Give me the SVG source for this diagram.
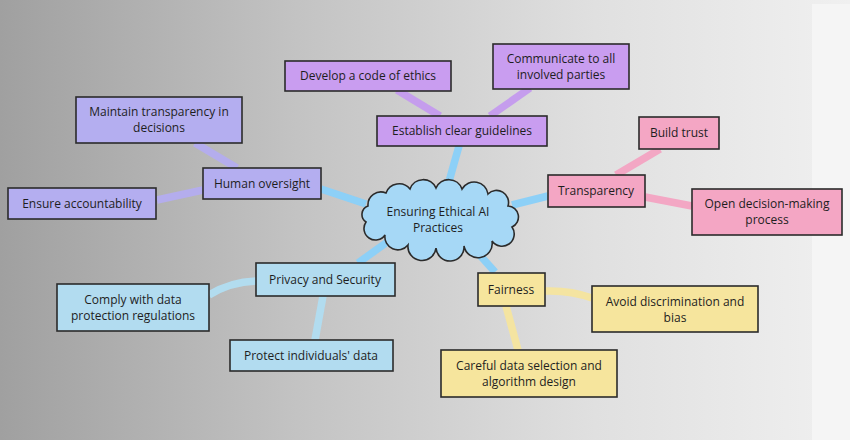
<svg xmlns="http://www.w3.org/2000/svg" width="850" height="440" viewBox="0 0 850 440">
<defs>
<linearGradient id="bg" x1="0" y1="0" x2="1" y2="0">
<stop offset="0" stop-color="#a0a0a0"/>
<stop offset="0.35" stop-color="#c3c3c3"/>
<stop offset="0.7" stop-color="#e0e0e0"/>
<stop offset="1" stop-color="#f0f0f0"/>
</linearGradient>
</defs>
<style>
.box{stroke:#2b2b2b;stroke-width:1.6}
.t{font-family:"Comic Sans MS","Open Sans","Liberation Sans",sans-serif;font-size:12px;fill:#1e1e1e;text-anchor:middle}
.c{fill:none;stroke-width:7.5;stroke-linecap:butt}
.sky{stroke:#8dd0f7}
.vio{stroke:#c59ded}
.per{stroke:#b4aded}
.pink{stroke:#f3a7c4}
.lb{stroke:#b2dcef}
.yel{stroke:#f4e4a1}
.fvio{fill:#c99df0}
.fper{fill:#b4aef0}
.fpink{fill:#f4a6c4}
.flb{fill:#b2dcf0}
.fyel{fill:#f6e59d}
</style>
<rect width="850" height="440" fill="url(#bg)"/>
<rect x="812" y="4" width="38" height="436" fill="#f5f5f5"/>

<g id="connectors">
<line class="c sky" x1="446" y1="192" x2="459" y2="146"/>
<line class="c sky" x1="366" y1="204" x2="321" y2="189"/>
<line class="c sky" x1="512" y1="205" x2="548" y2="196"/>
<line class="c sky" x1="390" y1="240" x2="358" y2="263"/>
<line class="c sky" x1="468" y1="242" x2="495" y2="272"/>
<line class="c vio" x1="397" y1="90" x2="440" y2="116"/>
<line class="c vio" x1="530" y1="88" x2="490" y2="116"/>
<line class="c per" x1="195" y1="143" x2="237" y2="168"/>
<line class="c per" x1="157" y1="200" x2="203" y2="190"/>
<line class="c pink" x1="660" y1="149" x2="616" y2="175"/>
<line class="c pink" x1="645" y1="197" x2="692" y2="206"/>
<path class="c lb" d="M209 295 Q230 282 256 281"/>
<line class="c lb" x1="323" y1="296" x2="315" y2="340"/>
<path class="c yel" d="M545 291 Q570 290 592 298"/>
<line class="c yel" x1="506" y1="306" x2="518" y2="350"/>
</g>

<g id="center">
<path d="M368 206 A13 13 0 0 1 386 193 A14 14 0 0 1 410 189 A14 14 0 0 1 436 188 A14 14 0 0 1 462 189 A14 14 0 0 1 488 194 A12 12 0 0 1 508 206 A11 11 0 0 1 512 227 A12 12 0 0 1 492 241 A14 14 0 0 1 464 246 A14 14 0 0 1 436 248 A14 14 0 0 1 408 245 A13 13 0 0 1 385 235 A11 11 0 0 1 366 222 A9 9 0 0 1 368 206 Z" fill="#a6d8f6" stroke="#2b2b2b" stroke-width="1.6"/>
<text class="t" x="438" y="216">Ensuring Ethical AI</text>
<text class="t" x="438" y="232">Practices</text>
</g>

<g id="guidelines">
<rect class="box fvio" x="377" y="116" width="170" height="30"/>
<text class="t" x="462" y="135">Establish clear guidelines</text>
</g>
<g id="ethics">
<rect class="box fvio" x="285" y="61" width="166" height="30"/>
<text class="t" x="368" y="80">Develop a code of ethics</text>
</g>
<g id="communicate">
<rect class="box fvio" x="493" y="44" width="136" height="45"/>
<text class="t" x="561" y="63">Communicate to all</text>
<text class="t" x="561" y="79">involved parties</text>
</g>

<g id="oversight">
<rect class="box fper" x="203" y="168" width="118" height="31"/>
<text class="t" x="262" y="188">Human oversight</text>
</g>
<g id="maintain">
<rect class="box fper" x="76" y="97" width="166" height="46"/>
<text class="t" x="159" y="116">Maintain transparency in</text>
<text class="t" x="159" y="132">decisions</text>
</g>
<g id="accountability">
<rect class="box fper" x="8" y="188" width="148" height="31"/>
<text class="t" x="82" y="208">Ensure accountability</text>
</g>

<g id="transparency">
<rect class="box fpink" x="548" y="175" width="97" height="32"/>
<text class="t" x="596" y="195">Transparency</text>
</g>
<g id="trust">
<rect class="box fpink" x="639" y="117" width="80" height="32"/>
<text class="t" x="679" y="137">Build trust</text>
</g>
<g id="open">
<rect class="box fpink" x="692" y="189" width="150" height="46"/>
<text class="t" x="767" y="208">Open decision-making</text>
<text class="t" x="767" y="224">process</text>
</g>

<g id="privacy">
<rect class="box flb" x="256" y="263" width="139" height="33"/>
<text class="t" x="325" y="284">Privacy and Security</text>
</g>
<g id="comply">
<rect class="box flb" x="57" y="284" width="152" height="47"/>
<text class="t" x="133" y="304">Comply with data</text>
<text class="t" x="133" y="320">protection regulations</text>
</g>
<g id="protect">
<rect class="box flb" x="230" y="340" width="163" height="31"/>
<text class="t" x="311" y="360">Protect individuals' data</text>
</g>

<g id="fairness">
<rect class="box fyel" x="478" y="273" width="67" height="33"/>
<text class="t" x="511" y="294">Fairness</text>
</g>
<g id="avoid">
<rect class="box fyel" x="592" y="286" width="166" height="46"/>
<text class="t" x="675" y="306">Avoid discrimination and</text>
<text class="t" x="675" y="322">bias</text>
</g>
<g id="careful">
<rect class="box fyel" x="441" y="350" width="176" height="47"/>
<text class="t" x="529" y="370">Careful data selection and</text>
<text class="t" x="529" y="386">algorithm design</text>
</g>
</svg>
